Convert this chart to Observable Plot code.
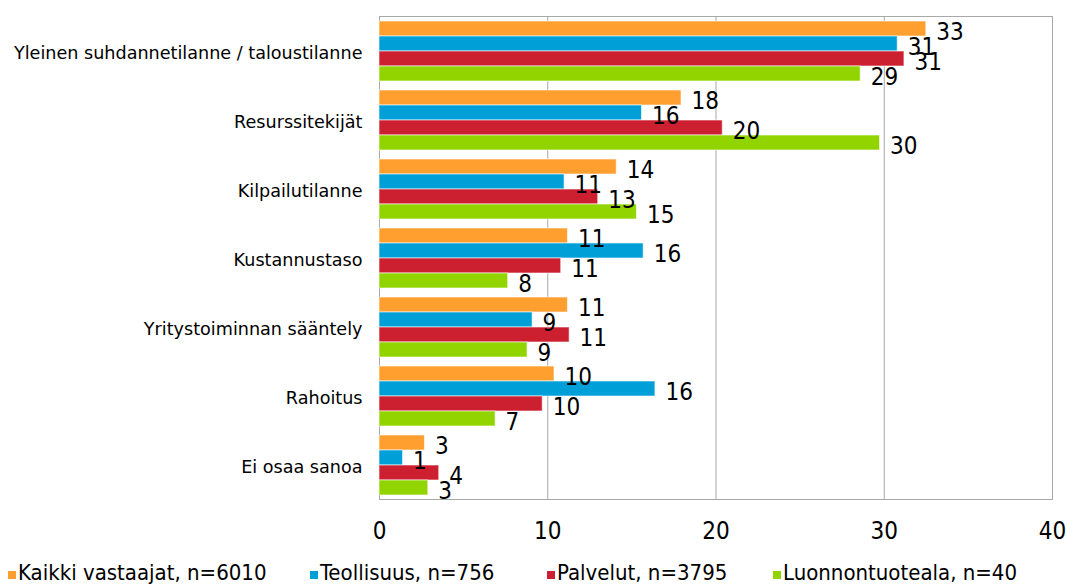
<!DOCTYPE html>
<html><head><meta charset="utf-8">
<script src="https://cdn.jsdelivr.net/npm/d3@7"></script>
<script src="https://cdn.jsdelivr.net/npm/@observablehq/plot@0.6"></script>
<style>
body{margin:0;background:#fff;}
#chart{position:relative;width:1067px;height:585px;overflow:hidden;}
#chart svg{position:absolute;left:0;top:0;}
.leg{position:absolute;top:560px;font-family:"DejaVu Sans Condensed",sans-serif;font-size:22px;color:#000;white-space:nowrap;line-height:26px;}
.leg span.sw{display:inline-block;width:8px;height:8px;margin-right:2px;vertical-align:1px;}
</style></head><body><div id="chart"></div>
<script>
const categories = ["Yleinen suhdannetilanne / taloustilanne","Resurssitekijät","Kilpailutilanne","Kustannustaso","Yritystoiminnan sääntely","Rahoitus","Ei osaa sanoa"];
const seriesNames = ["Kaikki vastaajat, n=6010","Teollisuus, n=756","Palvelut, n=3795","Luonnontuoteala, n=40"];
const seriesColors = ["#FF9F2F","#009FD8","#CC1F2F","#92D400"];
const kaikki = [32.5, 17.95, 14.1, 11.2, 11.2, 10.4, 2.7];
const teollisuus = [30.8, 15.6, 11.0, 15.7, 9.1, 16.4, 1.4];
const palvelut = [31.2, 20.4, 13.0, 10.8, 11.3, 9.7, 3.55];
const luonnontuoteala = [28.6, 29.75, 15.3, 7.65, 8.8, 6.9, 2.9];
const xTicks = [0, 10, 20, 30, 40];
const legendX = [8, 310, 547, 773];

const values = [kaikki, teollisuus, palvelut, luonnontuoteala];
const data = categories.flatMap((c, i) => seriesNames.map((s, j) => ({category: c, series: s, value: values[j][i]})));

const numFont = '"DejaVu Sans Condensed",sans-serif';
const plot = Plot.plot({
  width: 1067, height: 550,
  marginLeft: 379, marginRight: 15, marginTop: 16, marginBottom: 51,
  style: {fontFamily: "DejaVu Sans, sans-serif", color: "#000", background: "#fff"},
  x: {domain: [0, 40], ticks: xTicks},
  fy: {domain: categories, padding: 0},
  y: {domain: seriesNames, paddingInner: 0, paddingOuter: 0.21, axis: null},
  color: {domain: seriesNames, range: seriesColors},
  marks: [
    Plot.ruleX(xTicks, {stroke: "#a8a8a8", strokeWidth: 1}),
    Plot.frame({stroke: "#a8a8a8", facet: "super"}),
    Plot.barX(data, {fy: "category", y: "series", x: "value", fill: "series", stroke: "#fff", strokeOpacity: 0.6, strokeWidth: 1}),
    Plot.text(data, {fy: "category", y: "series", x: "value", text: d => Math.round(d.value), dx: 10, dy: 3, textAnchor: "start", fontSize: 24, fontFamily: numFont, fill: "#000"}),
    Plot.axisX({ticks: xTicks, tickSize: 0, tickPadding: 22, fontSize: 24, fontFamily: numFont, label: null}),
    Plot.axisFy({anchor: "left", tickSize: 0, tickPadding: 17, fontSize: 17.6, dy: 2, label: null})
  ]
});
const chart = document.getElementById("chart");
chart.appendChild(plot);
seriesNames.forEach((s, j) => {
  const d = document.createElement("div");
  d.className = "leg";
  d.style.left = legendX[j] + "px";
  d.innerHTML = `<span class="sw" style="background:${seriesColors[j]}"></span>${s}`;
  chart.appendChild(d);
});
</script></body></html>
